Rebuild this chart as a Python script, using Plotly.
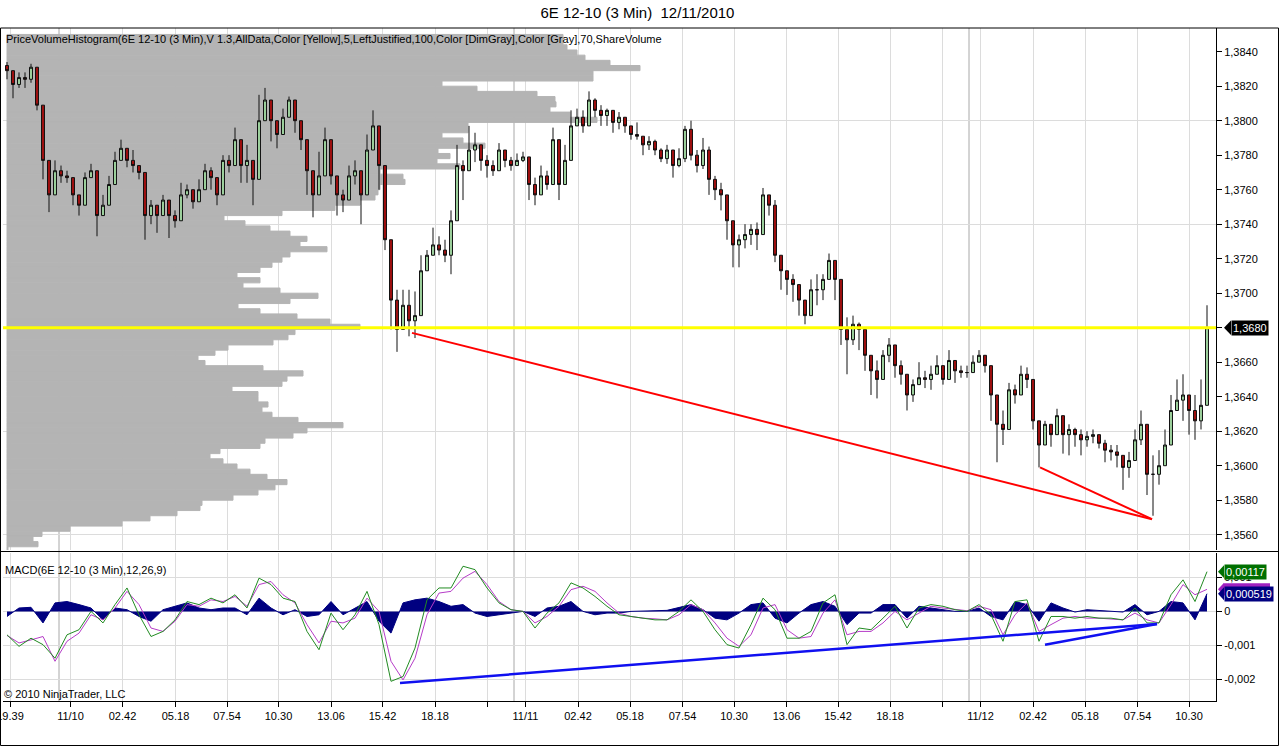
import plotly.graph_objects as go

# ---- price bars (6E 12-10, 3 min), one candle every 6 bars; x = bar number on the chart
bar_start, bar_step = 4, 6
first_open = 1.3832
closes = [
    1.3829, 1.3821, 1.3825, 1.3824, 1.3831, 1.3809, 1.3777, 1.3757, 1.3771, 1.3768,
    1.3767, 1.3757, 1.3751, 1.3767, 1.3771, 1.3745, 1.3751, 1.3763, 1.3777, 1.3784,
    1.3777, 1.3774, 1.3770, 1.3745, 1.3751, 1.3745, 1.3754, 1.3745, 1.3742, 1.3757,
    1.3760, 1.3753, 1.3760, 1.3771, 1.3767, 1.3757, 1.3777, 1.3774, 1.3789, 1.3774,
    1.3777, 1.3766, 1.3800, 1.3812, 1.3800, 1.3792, 1.3802, 1.3812, 1.3800, 1.3789,
    1.3771, 1.3757, 1.3768, 1.3789, 1.3768, 1.3757, 1.3754, 1.3768, 1.3771, 1.3757,
    1.3783, 1.3797, 1.3774, 1.3731, 1.3696, 1.3679, 1.3693, 1.3684, 1.3687, 1.3713,
    1.3722, 1.3728, 1.3725, 1.3722, 1.3742, 1.3774, 1.3771, 1.3783, 1.3786, 1.3777,
    1.3774, 1.3771, 1.3783, 1.3777, 1.3774, 1.3777, 1.3779, 1.3763, 1.3757, 1.3768,
    1.3763, 1.3789, 1.3763, 1.3777, 1.3797, 1.3802, 1.3797, 1.3812, 1.3806, 1.3803,
    1.3806, 1.3799, 1.3802, 1.3797, 1.3792, 1.3791, 1.3786, 1.3788, 1.3783, 1.3778,
    1.3783, 1.3774, 1.3778, 1.3795, 1.3780, 1.3774, 1.3783, 1.3766, 1.3760, 1.3757,
    1.3742, 1.3728, 1.3731, 1.3734, 1.3737, 1.3734, 1.3757, 1.3751, 1.3722, 1.3713,
    1.3708, 1.3705, 1.3696, 1.3687, 1.3702, 1.3702, 1.3708, 1.3719, 1.3708, 1.3679,
    1.3673, 1.3682, 1.3679, 1.3664, 1.3655, 1.3650, 1.3664, 1.3670, 1.3658, 1.3653,
    1.3641, 1.3647, 1.3651, 1.3650, 1.3653, 1.3658, 1.3650, 1.3661, 1.3655, 1.3654,
    1.3654, 1.3660, 1.3664, 1.3658, 1.3641, 1.3624, 1.3621, 1.3644, 1.3641, 1.3653,
    1.3650, 1.3626, 1.3612, 1.3624, 1.3618, 1.3629, 1.3618, 1.3621, 1.3618, 1.3615,
    1.3617, 1.3618, 1.3613, 1.3609, 1.3608, 1.3606, 1.3599, 1.3603, 1.3615, 1.3624,
    1.3595, 1.3595, 1.3600, 1.3612, 1.3632, 1.3638, 1.3641, 1.3632, 1.3626, 1.3635,
    1.3680,
]
highs = [
    1.3834, 1.3828, 1.3828, 1.3828, 1.3833, 1.3824, 1.3792, 1.3777, 1.3777, 1.3774,
    1.3771, 1.3761, 1.3757, 1.3770, 1.3775, 1.3768, 1.3757, 1.3768, 1.3782, 1.3789,
    1.3784, 1.3783, 1.3774, 1.3757, 1.3754, 1.3751, 1.3757, 1.3751, 1.3748, 1.3764,
    1.3763, 1.3758, 1.3766, 1.3775, 1.3773, 1.3763, 1.3780, 1.3780, 1.3796, 1.3783,
    1.3786, 1.3774, 1.3815, 1.3819, 1.3809, 1.3797, 1.3807, 1.3814, 1.3803, 1.3795,
    1.3780, 1.3763, 1.3782, 1.3796, 1.3780, 1.3763, 1.3760, 1.3774, 1.3777, 1.3768,
    1.3792, 1.3806, 1.3783, 1.3757, 1.3713, 1.3702, 1.3702, 1.3702, 1.3701, 1.3722,
    1.3725, 1.3738, 1.3733, 1.3731, 1.3748, 1.3786, 1.3777, 1.3797, 1.3793, 1.3786,
    1.3780, 1.3777, 1.3787, 1.3781, 1.3779, 1.3781, 1.3782, 1.3773, 1.3767, 1.3774,
    1.3771, 1.3796, 1.3777, 1.3786, 1.3806, 1.3807, 1.3806, 1.3817, 1.3813, 1.3809,
    1.3807, 1.3805, 1.3805, 1.3802, 1.3796, 1.3799, 1.3789, 1.3791, 1.3789, 1.3784,
    1.3786, 1.3780, 1.3784, 1.3797, 1.3800, 1.3783, 1.3790, 1.3785, 1.3768, 1.3764,
    1.3756, 1.3737, 1.3734, 1.3740, 1.3740, 1.3741, 1.3761, 1.3757, 1.3754, 1.3719,
    1.3713, 1.3711, 1.3703, 1.3696, 1.3708, 1.3711, 1.3711, 1.3723, 1.3718, 1.3699,
    1.3686, 1.3687, 1.3683, 1.3676, 1.3664, 1.3661, 1.3667, 1.3674, 1.3666, 1.3661,
    1.3653, 1.3650, 1.3660, 1.3655, 1.3658, 1.3664, 1.3658, 1.3667, 1.3661, 1.3658,
    1.3658, 1.3664, 1.3667, 1.3661, 1.3658, 1.3638, 1.3632, 1.3648, 1.3647, 1.3658,
    1.3657, 1.3647, 1.3621, 1.3626, 1.3624, 1.3633, 1.3624, 1.3624, 1.3622, 1.3621,
    1.3620, 1.3621, 1.3618, 1.3615, 1.3612, 1.3612, 1.3606, 1.3608, 1.3621, 1.3632,
    1.3621, 1.3606, 1.3609, 1.3621, 1.3641, 1.3650, 1.3653, 1.3641, 1.3641, 1.3650,
    1.3693,
]
lows = [
    1.3824, 1.3813, 1.3819, 1.3819, 1.3822, 1.3806, 1.3766, 1.3747, 1.3763, 1.3764,
    1.3764, 1.3751, 1.3745, 1.3760, 1.3767, 1.3733, 1.3745, 1.3759, 1.3770, 1.3777,
    1.3773, 1.3770, 1.3766, 1.3731, 1.3740, 1.3735, 1.3747, 1.3732, 1.3738, 1.3754,
    1.3755, 1.3749, 1.3755, 1.3766, 1.3760, 1.3751, 1.3770, 1.3770, 1.3782, 1.3764,
    1.3764, 1.3751, 1.3777, 1.3805, 1.3788, 1.3784, 1.3793, 1.3805, 1.3793, 1.3783,
    1.3757, 1.3744, 1.3763, 1.3780, 1.3763, 1.3745, 1.3747, 1.3763, 1.3763, 1.3740,
    1.3777, 1.3789, 1.3760, 1.3725, 1.3679, 1.3666, 1.3679, 1.3675, 1.3674, 1.3705,
    1.3713, 1.3725, 1.3722, 1.3718, 1.3711, 1.3757, 1.3754, 1.3771, 1.3776, 1.3771,
    1.3767, 1.3768, 1.3776, 1.3773, 1.3771, 1.3774, 1.3776, 1.3754, 1.3751, 1.3763,
    1.3760, 1.3766, 1.3754, 1.3771, 1.3790, 1.3797, 1.3793, 1.3807, 1.3802, 1.3797,
    1.3797, 1.3793, 1.3795, 1.3793, 1.3789, 1.3789, 1.3780, 1.3783, 1.3780, 1.3776,
    1.3775, 1.3767, 1.3773, 1.3776, 1.3777, 1.3770, 1.3772, 1.3757, 1.3754, 1.3748,
    1.3731, 1.3715, 1.3715, 1.3726, 1.3728, 1.3725, 1.3741, 1.3745, 1.3718, 1.3702,
    1.3699, 1.3695, 1.3687, 1.3682, 1.3693, 1.3693, 1.3696, 1.3711, 1.3696, 1.3670,
    1.3653, 1.3670, 1.3667, 1.3655, 1.3641, 1.3639, 1.3655, 1.3660, 1.3651, 1.3647,
    1.3632, 1.3637, 1.3647, 1.3645, 1.3644, 1.3653, 1.3647, 1.3654, 1.3648, 1.3651,
    1.3651, 1.3655, 1.3660, 1.3654, 1.3626, 1.3602, 1.3612, 1.3635, 1.3636, 1.3647,
    1.3645, 1.3621, 1.3599, 1.3612, 1.3611, 1.3618, 1.3607, 1.3606, 1.3611, 1.3606,
    1.3611, 1.3613, 1.3610, 1.3602, 1.3603, 1.3599, 1.3586, 1.3593, 1.3606, 1.3612,
    1.3583, 1.3571, 1.3589, 1.3602, 1.3621, 1.3632, 1.3626, 1.3618, 1.3615, 1.3621,
    1.3644,
]

# ---- MACD(12,26,9), read every 12 bars
macd_start, macd_step = 4, 12
macd_line = [
    -0.00069, -0.00103, -0.00079, -0.00098, -0.00138, -0.00069, -0.00054, 0.0, -0.00034, 0.00020,
    0.00069, -0.00010, -0.00074, -0.00059, -0.00025, 0.00029, 0.00020, 0.00039, 0.00025, 0.00049,
    0.00010, 0.00098, 0.00079, 0.00039, 0.00029, -0.00059, -0.00113, -0.00005, -0.00054, -0.00010,
    0.00059, -0.00039, -0.00206, -0.00192, -0.00108, 0.00034, 0.00069, 0.00069, 0.00133, 0.00123,
    0.00069, 0.00025, 0.00005, 0.0, -0.00049, -0.00005, 0.00025, 0.00084, 0.00069, 0.00044,
    0.00015, -0.00010, -0.00015, -0.00020, -0.00025, -0.00025, 0.0, 0.00034, 0.0, -0.00054,
    -0.00098, -0.00108, -0.00039, 0.00039, 0.00005, -0.00079, -0.00079, -0.00059, 0.00025, 0.00049,
    -0.00098, -0.00049, -0.00054, -0.00020, 0.00015, -0.00049, 0.00010, 0.00020, 0.00015, 0.00005,
    0.0, 0.00020, -0.00010, -0.00088, 0.00029, 0.00034, -0.00088, -0.00015, -0.00015, -0.00020,
    -0.00015, -0.00020, -0.00020, -0.00025, 0.00010, -0.00034, -0.00034, 0.00049, 0.00093, 0.00029,
    0.00117,
]
macd_signal = [
    -0.00071, -0.00093, -0.00084, -0.00074, -0.00147, -0.00088, -0.00064, -0.00010, -0.00025, 0.00010,
    0.00059, 0.00020, -0.00049, -0.00059, -0.00029, 0.00020, 0.00015, 0.00034, 0.00029, 0.00044,
    0.00015, 0.00079, 0.00088, 0.00049, 0.00025, -0.00039, -0.00093, -0.00029, -0.00034, -0.00020,
    0.00039, 0.0, -0.00147, -0.00202, -0.00138, -0.00010, 0.00054, 0.00059, 0.00098, 0.00118,
    0.00079, 0.00029, 0.00005, 0.0, -0.00034, -0.00015, 0.00015, 0.00064, 0.00074, 0.00059,
    0.00025, -0.00005, -0.00015, -0.00020, -0.00022, -0.00025, -0.00010, 0.00020, 0.00005, -0.00034,
    -0.00079, -0.00103, -0.00069, 0.00010, 0.00020, -0.00054, -0.00079, -0.00074, -0.00005, 0.00034,
    -0.00069, -0.00059, -0.00059, -0.00034, 0.0, -0.00025, -0.00005, 0.00015, 0.00010, 0.00007,
    0.00002, 0.00015, 0.00005, -0.00069, -0.00010, 0.00025, -0.00059, -0.00039, -0.00020, -0.00015,
    -0.00020, -0.00020, -0.00022, -0.00025, -0.00005, -0.00025, -0.00034, 0.00020, 0.00079, 0.00049,
    0.00065,
]
macd_diff = [
    -0.00015, 0.00010, 0.00012, -0.00034, 0.00025, 0.00029, 0.00020, 0.00010, -0.00025, 0.00010,
    0.00005, -0.00015, -0.00029, 0.00005, 0.00015, 0.00025, 0.00010, 0.00005, 0.00010, 0.00010,
    -0.00010, 0.00039, 0.00010, -0.00010, 0.00005, -0.00015, -0.00010, 0.00029, -0.00010, 0.00010,
    0.00029, -0.00029, -0.00064, 0.00025, 0.00034, 0.00039, 0.00029, 0.00015, 0.00020, -0.00005,
    -0.00015, -0.00010, -0.00005, 0.0, -0.00015, 0.00010, 0.00015, 0.00029, 0.0, -0.00010,
    -0.00005, -0.00005, 0.0, 0.00002, 0.00002, 0.00003, 0.00012, 0.00020, 0.00005, -0.00020,
    -0.00025, -0.00005, 0.00020, 0.00025, -0.00020, -0.00034, -0.00005, 0.00020, 0.00029, 0.00015,
    -0.00039, -0.00005, -0.00005, 0.00020, 0.00020, -0.00020, 0.00015, 0.00010, 0.00005, 0.0,
    0.0, 0.00010, -0.00015, -0.00025, 0.00029, 0.00020, -0.00029, 0.00025, 0.00010, -0.00002,
    0.00005, 0.00002, 0.0, -0.00002, 0.00020, -0.00010, 0.0, 0.00029, 0.00025, -0.00025,
    0.00052,
]
last_macd, last_signal, last_diff = 0.00117, 0.00065, 0.000519

# ---- price volume histogram: 100 rows of 3 pips from 1,3850 down
profile_top = 1.3850
profile_row = 0.0003
profile_volume = [
    556, 556, 560, 570, 578, 603, 633, 586, 586, 435,
    470, 530, 548, 549, 543, 563, 590, 461, 461, 435,
    456, 478, 431, 443, 430, 453, 373, 396, 398, 373,
    371, 368, 353, 328, 275, 217, 238, 263, 283, 300,
    293, 320, 283, 275, 265, 253, 230, 253, 236, 273,
    311, 283, 231, 253, 290, 323, 353, 288, 281, 266,
    221, 208, 191, 198, 256, 296, 280, 275, 225, 251,
    251, 261, 255, 265, 291, 336, 300, 286, 258, 253,
    213, 203, 216, 230, 243, 260, 280, 268, 251, 226,
    195, 193, 170, 143, 115, 63, 35, 26, 31, 1,
]
poc_price = 1.3680

# ---- time axis
tick_bars = [7, 67.5, 119.5, 172.5, 224, 275.5, 328, 379.5, 432, 484, 522.5, 575,
             627, 679.5, 731, 783.5, 835, 887, 939.5, 977.5, 1030, 1082, 1134.5, 1186]
tick_text = ["19.39", "11/10", "02.42", "05.18", "07.54", "10.30", "13.06", "15.42", "18.18", "",
             "11/11", "02.42", "05.18", "07.54", "10.30", "13.06", "15.42", "18.18", "",
             "11/12", "02.42", "05.18", "07.54", "10.30"]
session_breaks = [56, 511, 966]

# ---- hand drawn divergence lines
red_lines_x = [[409, 1149], [1037, 1149]]
red_lines_y = [[1.3677, 1.3569], [1.3599, 1.3569]]
blue_lines_x = [[397, 1154], [1042, 1154]]
blue_lines_y = [[-0.00211, -0.00037], [-0.00098, -0.00037]]

price_ticks = [1.3560, 1.3580, 1.3600, 1.3620, 1.3640, 1.3660, 1.3680, 1.3700,
               1.3720, 1.3740, 1.3760, 1.3780, 1.3800, 1.3820, 1.3840]
price_grid = [1.3560, 1.3620, 1.3680, 1.3740, 1.3800]
macd_ticks = [0.001, 0.0, -0.001, -0.002]


def comma(v, fmt):
    return format(v, fmt).replace(".", ",")


# pixel helpers for the layout (plot area spans x 3..1216, y 28..701)
W, H = 1280, 747
L, R, T, B = 3, 1216, 28, 701


def pxx(x):
    return (x - L) / (R - L)


def pxy(y):
    return (B - y) / (B - T)


FONT = "Arial, Liberation Sans, sans-serif"

bar_x = [bar_start + i * bar_step for i in range(len(closes))]
opens = [first_open] + closes[:-1]
highs_ok = [max(h, o, c) for h, o, c in zip(highs, opens, closes)]
lows_ok = [min(lo, o, c) for lo, o, c in zip(lows, opens, closes)]
macd_x = [macd_start + i * macd_step for i in range(len(macd_line))]
profile_price = [profile_top - profile_row * (k + 0.5) for k in range(len(profile_volume))]

fig = go.Figure()

# volume profile on the base x axis (volume units), drawn first
fig.add_trace(go.Bar(
    x=profile_volume, y=profile_price, orientation="h", width=profile_row,
    marker=dict(color="#b4b4b4", line=dict(width=1, color="#b4b4b4")),
    xaxis="x", yaxis="y", hoverinfo="skip",
))

# POC line
fig.add_trace(go.Scatter(
    x=[0, R - L], y=[poc_price, poc_price], mode="lines",
    line=dict(color="#ffff00", width=3), xaxis="x3", yaxis="y", hoverinfo="skip",
))

fig.add_trace(go.Candlestick(
    x=bar_x, open=opens, high=highs_ok, low=lows_ok, close=closes,
    increasing=dict(line=dict(color="#101010", width=1), fillcolor="#9fd49f"),
    decreasing=dict(line=dict(color="#101010", width=1), fillcolor="#a01010"),
    whiskerwidth=0, xaxis="x3", yaxis="y", hoverinfo="skip",
))

for xs, ys in zip(red_lines_x, red_lines_y):
    fig.add_trace(go.Scatter(x=xs, y=ys, mode="lines", line=dict(color="#ff0000", width=2),
                             xaxis="x3", yaxis="y", hoverinfo="skip"))

# MACD panel
fig.add_trace(go.Scatter(
    x=macd_x, y=macd_diff, mode="lines", fill="tozeroy", fillcolor="#000080",
    line=dict(color="#000080", width=1), xaxis="x2", yaxis="y2", hoverinfo="skip",
))
fig.add_trace(go.Scatter(x=macd_x, y=macd_signal, mode="lines",
                         line=dict(color="#b63cc8", width=1), xaxis="x2", yaxis="y2"))
fig.add_trace(go.Scatter(x=macd_x, y=macd_line, mode="lines",
                         line=dict(color="#228b22", width=1), xaxis="x2", yaxis="y2"))
for xs, ys in zip(blue_lines_x, blue_lines_y):
    fig.add_trace(go.Scatter(x=xs, y=ys, mode="lines", line=dict(color="#1010f0", width=2.5),
                             xaxis="x2", yaxis="y2", hoverinfo="skip"))

main_dom = [pxy(550), 1]
macd_dom = [0, pxy(553)]
price_lo = 1.3840 - (550 - 51.7) / 17250
price_hi = 1.3840 + (51.7 - 28) / 17250

grid = "#dcdcdc"
tickfont = dict(family=FONT, size=11, color="black")

fig.update_layout(
    width=W, height=H,
    margin=dict(l=L, r=W - R, t=T, b=H - B, autoexpand=False),
    paper_bgcolor="white", plot_bgcolor="white",
    showlegend=False, hovermode=False,
    title=dict(text="6E 12-10 (3 Min)  12/11/2010", x=0.498, xref="container",
               y=1 - 13 / H, yanchor="middle", font=dict(family=FONT, size=15, color="black")),
    xaxis=dict(domain=[0, 1], anchor="y", range=[-4, R - L - 4], visible=False,
               rangeslider=dict(visible=False), automargin=False),
    xaxis3=dict(overlaying="x", anchor="y", range=[0, R - L], tickmode="array",
                tickvals=tick_bars, ticktext=tick_text, showticklabels=False, ticks="",
                showgrid=True, gridcolor=grid, gridwidth=1, zeroline=False,
                rangeslider=dict(visible=False), automargin=False),
    xaxis2=dict(domain=[0, 1], anchor="y2", range=[0, R - L], tickmode="array",
                tickvals=tick_bars, ticktext=tick_text, ticks="outside", ticklen=5,
                tickcolor="black", tickfont=tickfont, showgrid=True, gridcolor=grid,
                zeroline=False, showline=True, linecolor="black", linewidth=1,
                ticklabeloverflow="allow", rangeslider=dict(visible=False),
                automargin=False),
    yaxis=dict(domain=main_dom, anchor="x", side="right", range=[price_lo, price_hi],
               tickmode="array", tickvals=price_ticks,
               ticktext=["" if v == poc_price else comma(v, ".4f") for v in price_ticks],
               ticks="outside", ticklen=5, tickcolor="black", tickfont=tickfont,
               showgrid=False, zeroline=False, showline=True, linecolor="black",
               automargin=False,
               minor=dict(tickmode="array", tickvals=price_grid, showgrid=True,
                          gridcolor=grid, ticks="")),
    yaxis2=dict(domain=macd_dom, anchor="x2", side="right", range=[-0.00264, 0.00172],
                tickmode="array", tickvals=macd_ticks,
                ticktext=["0,001", "0", "-0,001", "-0,002"],
                ticks="outside", ticklen=5, tickcolor="black", tickfont=tickfont,
                showgrid=True, gridcolor=grid, zeroline=False, showline=True,
                linecolor="black", automargin=False),
)

shapes = []
for b in session_breaks:
    shapes.append(dict(type="line", xref="x3", yref="paper", x0=b, x1=b, y0=0, y1=1,
                       line=dict(color="#a8a8a8", width=1), layer="below"))
# outer frame and panel separator
shapes.append(dict(type="rect", xref="paper", yref="paper", x0=pxx(0.5), x1=pxx(1278.5),
                   y0=pxy(745.5), y1=1, line=dict(color="black", width=1)))
shapes.append(dict(type="line", xref="paper", yref="paper", x0=pxx(0.5), x1=pxx(1278.5),
                   y0=pxy(551.5), y1=pxy(551.5), line=dict(color="black", width=1)))
# value marker on the price axis
shapes.append(dict(type="path", xref="paper", yref="y",
                   path=f"M {pxx(1224)},{poc_price} L {pxx(1231)},{poc_price + 0.00042} "
                        f"L {pxx(1231)},{poc_price - 0.00042} Z",
                   fillcolor="black", line=dict(width=0)))
# signal marker (mostly hidden under the diff marker)
shapes.append(dict(type="rect", xref="paper", yref="y2", x0=pxx(1224), x1=pxx(1270),
                   y0=last_signal - 0.00018, y1=last_signal + 0.00018,
                   fillcolor="#a020c0", line=dict(width=0)))
for val, col in [(last_signal, "#a020c0"), (last_diff, "#000080"), (last_macd, "#007000")]:
    shapes.append(dict(type="path", xref="paper", yref="y2",
                       path=f"M {pxx(1218)},{val} L {pxx(1224)},{val + 0.00019} "
                            f"L {pxx(1224)},{val - 0.00019} Z",
                       fillcolor=col, line=dict(width=0)))
fig.update_layout(shapes=shapes)

ann = [
    dict(text="PriceVolumeHistogram(6E 12-10 (3 Min),V 1.3,AllData,Color [Yellow],5,LeftJustified,"
              "100,Color [DimGray],Color [Gray],70,ShareVolume",
         xref="paper", yref="paper", x=pxx(4), y=pxy(39), xanchor="left", yanchor="middle",
         showarrow=False, font=dict(family=FONT, size=11, color="black")),
    dict(text="MACD(6E 12-10 (3 Min),12,26,9)", xref="paper", yref="paper",
         x=pxx(3), y=pxy(570), xanchor="left", yanchor="middle", showarrow=False,
         font=dict(family=FONT, size=11, color="black")),
    dict(text="© 2010 NinjaTrader, LLC", xref="paper", yref="paper",
         x=pxx(2), y=pxy(694), xanchor="left", yanchor="middle", showarrow=False,
         font=dict(family=FONT, size=11, color="black")),
    dict(text=comma(poc_price, ".4f"), xref="paper", yref="y", x=pxx(1231), y=poc_price,
         xanchor="left", yanchor="middle", showarrow=False, bgcolor="black", borderpad=1,
         font=dict(family=FONT, size=11, color="white")),
    dict(text=comma(last_diff, ".6f"), xref="paper", yref="y2", x=pxx(1224), y=last_diff,
         xanchor="left", yanchor="middle", showarrow=False, bgcolor="#000080", borderpad=1,
         font=dict(family=FONT, size=11, color="white")),
    dict(text=comma(last_macd, ".5f"), xref="paper", yref="y2", x=pxx(1224), y=last_macd,
         xanchor="left", yanchor="middle", showarrow=False, bgcolor="#007000", borderpad=1,
         font=dict(family=FONT, size=11, color="white")),
]
fig.update_layout(annotations=ann)

# the page's default body margin would push the 1280x747 figure off the window
fig.write_html("out.html", config={"displayModeBar": False},
               post_script="document.body.style.margin = '0px';")
